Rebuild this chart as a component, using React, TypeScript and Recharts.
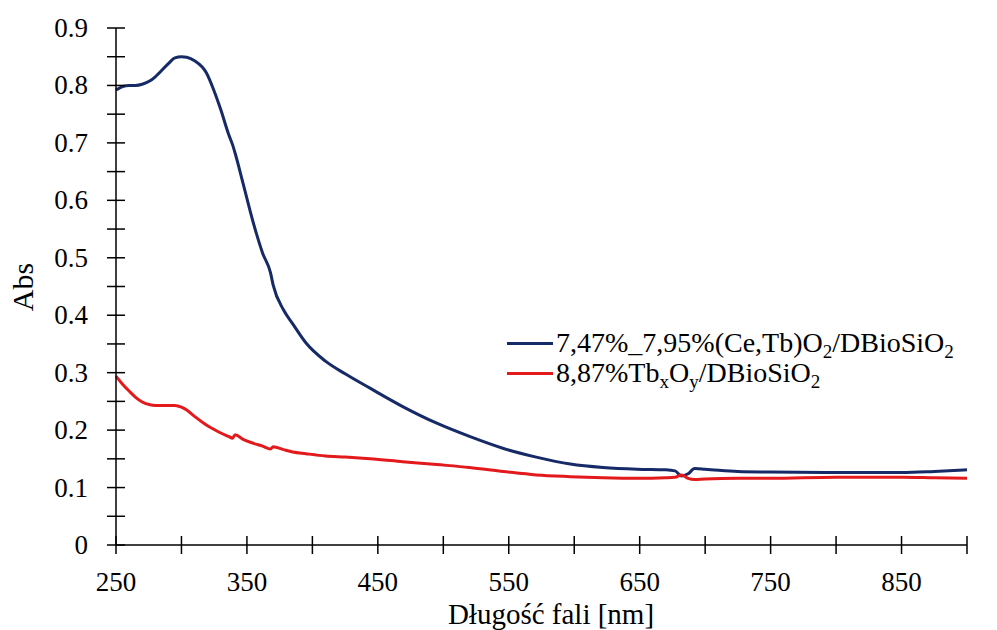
import { LineChart, Line, XAxis, YAxis } from 'recharts';

const wavelengths = [
  250, 255, 260, 265, 270, 276, 280, 290, 295, 300, 304, 310, 319, 325, 330, 336, 339, 341, 347,
  355, 362, 368, 370, 378, 385, 395, 410, 425, 444, 469, 495, 520, 546, 571, 597, 622, 648, 670,
  677, 682, 687, 692, 700, 725, 750, 800, 850, 875, 900,
];

const ceTbValues = [
  0.792, 0.798, 0.8, 0.8, 0.802, 0.808, 0.815, 0.838, 0.848, 0.85, 0.849, 0.843, 0.822, 0.79,
  0.758, 0.715, 0.697, 0.682, 0.63, 0.56, 0.508, 0.474, 0.453, 0.409, 0.385, 0.352, 0.32, 0.298,
  0.273, 0.241, 0.212, 0.189, 0.168, 0.153, 0.141, 0.135, 0.132, 0.131, 0.129, 0.12, 0.124, 0.133,
  0.132, 0.128, 0.127, 0.126, 0.126, 0.128, 0.131,
];

const tbValues = [
  0.294, 0.28, 0.268, 0.257, 0.249, 0.244, 0.243, 0.243, 0.243, 0.24, 0.235, 0.224, 0.209, 0.201,
  0.195, 0.189, 0.186, 0.192, 0.184, 0.177, 0.172, 0.167, 0.171, 0.166, 0.162, 0.159, 0.155, 0.153,
  0.15, 0.145, 0.14, 0.135, 0.128, 0.122, 0.119, 0.117, 0.116, 0.117, 0.118, 0.122, 0.116, 0.114,
  0.115, 0.116, 0.116, 0.118, 0.118, 0.117, 0.116,
];

const xTicks = [250, 300, 350, 400, 450, 500, 550, 600, 650, 700, 750, 800, 850, 900];
const yTicks = [
  0, 0.05, 0.1, 0.15, 0.2, 0.25, 0.3, 0.35, 0.4, 0.45, 0.5, 0.55, 0.6, 0.65, 0.7, 0.75, 0.8, 0.85,
  0.9,
];

const data = wavelengths.map((w, i) => ({ w, ceTb: ceTbValues[i], tb: tbValues[i] }));

const FONT = '"Liberation Serif", "Times New Roman", serif';
const BLUE = '#152a66';
const RED = '#e3191c';

function YTick({ x, y, payload }: any) {
  const v = payload.value;
  const show = Math.round(v * 100) % 10 === 0;
  return (
    <g>
      <line x1={x - 9} x2={x + 9} y1={y} y2={y} stroke="#000" strokeWidth={1.5} />
      {show && (
        <text x={x - 28} y={y + 9} textAnchor="end" fontFamily={FONT} fontSize={27} fill="#000">
          {v === 0 ? '0' : v.toFixed(1)}
        </text>
      )}
    </g>
  );
}

function XTick({ x, y, payload }: any) {
  const v = payload.value;
  const show = (v - 250) % 100 === 0;
  return (
    <g>
      <line x1={x} x2={x} y1={y - 9} y2={y + 9} stroke="#000" strokeWidth={1.5} />
      {show && (
        <text x={x} y={y + 46} textAnchor="middle" fontFamily={FONT} fontSize={27} fill="#000">
          {v}
        </text>
      )}
    </g>
  );
}

// legend kept outside the svg so it does not shrink the plot area
function LegendBox() {
  const sub = { fontSize: '0.68em', verticalAlign: '-0.3em', lineHeight: 0 } as const;
  const row = (color: string, label: any) => (
    <div style={{ display: 'flex', alignItems: 'center', height: 30, lineHeight: '30px' }}>
      <span style={{ width: 46, height: 3, background: color, marginRight: 3, flexShrink: 0 }} />
      <span style={{ whiteSpace: 'nowrap' }}>{label}</span>
    </div>
  );
  return (
    <div
      style={{
        position: 'absolute',
        left: 507,
        top: 328,
        fontFamily: FONT,
        fontSize: 28,
        color: '#000',
      }}
    >
      {row(
        BLUE,
        <>
          7,47%_7,95%(Ce,Tb)O<span style={sub}>2</span>/DBioSiO<span style={sub}>2</span>
        </>,
      )}
      {row(
        RED,
        <>
          8,87%Tb<span style={sub}>x</span>O<span style={sub}>y</span>/DBioSiO<span style={sub}>2</span>
        </>,
      )}
    </div>
  );
}

export default function App() {
  return (
    <div style={{ position: 'absolute', left: 0, top: 0, width: 997, height: 630, background: '#fff' }}>
      <LineChart width={997} height={630} data={data} margin={{ top: 28, right: 30, bottom: 0, left: 0 }}>
        <XAxis
          dataKey="w"
          type="number"
          domain={[250, 900]}
          ticks={xTicks}
          interval={0}
          height={85}
          tickSize={0}
          tickMargin={0}
          tickLine={false}
          axisLine={{ stroke: '#000', strokeWidth: 1.5 }}
          tick={(p: any) => <XTick {...p} />}
          label={() => (
            <text x={551} y={624} textAnchor="middle" fontFamily={FONT} fontSize={29} fill="#000">
              Długość fali [nm]
            </text>
          )}
        />
        <YAxis
          type="number"
          domain={[0, 0.9]}
          ticks={yTicks}
          interval={0}
          width={116}
          tickSize={0}
          tickMargin={0}
          tickLine={false}
          axisLine={{ stroke: '#000', strokeWidth: 1.5 }}
          tick={(p: any) => <YTick {...p} />}
          label={() => (
            <text
              transform="translate(33,287) rotate(-90)"
              textAnchor="middle"
              fontFamily={FONT}
              fontSize={30}
              fill="#000"
            >
              Abs
            </text>
          )}
        />
        <Line
          dataKey="ceTb"
          name="7,47%_7,95%(Ce,Tb)O2/DBioSiO2"
          type="monotone"
          stroke={BLUE}
          strokeWidth={3}
          dot={false}
          isAnimationActive={false}
        />
        <Line
          dataKey="tb"
          name="8,87%TbxOy/DBioSiO2"
          type="monotone"
          stroke={RED}
          strokeWidth={3}
          dot={false}
          isAnimationActive={false}
        />
      </LineChart>
      <LegendBox />
    </div>
  );
}
